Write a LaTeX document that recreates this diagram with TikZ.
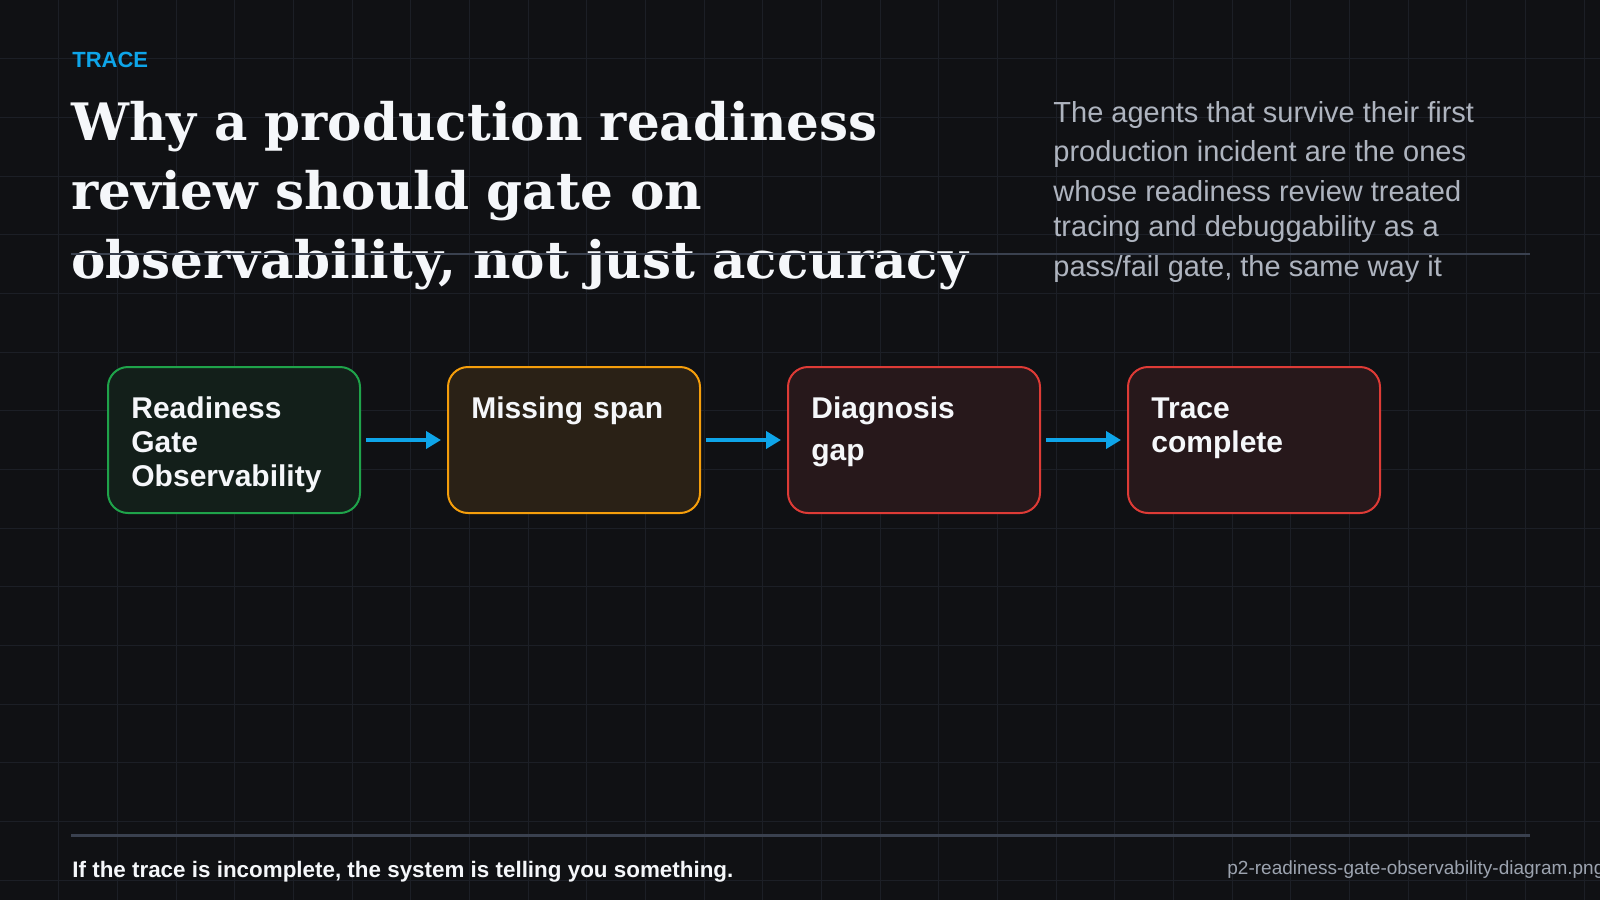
\documentclass[tikz,border=0pt]{standalone}
\usepackage{fontspec}
\setmainfont{Liberation Sans}
\newfontfamily\headfont{DejaVu Serif}
\usetikzlibrary{arrows.meta, positioning}

\definecolor{bgcol}{HTML}{101114}
\definecolor{gridcol}{HTML}{1C1F26}
\definecolor{rulecol}{HTML}{3A414F}
\definecolor{accent}{HTML}{0EA5E9}
\definecolor{txtwhite}{HTML}{F5F7FA}
\definecolor{paratxt}{HTML}{AEB4BF}
\definecolor{filetxt}{HTML}{9CA3AF}
\definecolor{grnline}{HTML}{1FA34A}
\definecolor{grnfill}{HTML}{131F1A}
\definecolor{ambline}{HTML}{F59E0B}
\definecolor{ambfill}{HTML}{2A2116}
\definecolor{redline}{HTML}{DE3B36}
\definecolor{redfill}{HTML}{27181B}

\begin{document}
\begin{tikzpicture}[
    x=0.5pt, y=-0.5pt,
    node distance=44pt,
    stagebox/.style={rectangle, draw, line width=1pt, rounded corners=10pt, outer sep=0pt,
                minimum width=126pt, minimum height=73pt},
    stagetxt/.style={anchor=base west, inner sep=0pt, align=left, text width=115pt,
                text=txtwhite, font=\fontsize{15}{17}\selectfont\bfseries},
    arr/.style={-{Triangle[length=7.5pt, width=8.5pt]}, line width=2pt, draw=accent,
                shorten <=3pt, shorten >=3.5pt},
    gridline/.style={draw=gridcol, line width=0.5pt},
    rule/.style={draw=rulecol, line width=1.25pt},
]
    \useasboundingbox (0,0) rectangle (1600,900);
    \clip (0,0) rectangle (1600,900);
    \fill[bgcol] (0,0) rectangle (1600,900);
    \foreach \i in {1,...,27} \draw[gridline] (\i*58.67,0) -- (\i*58.67,900);
    \foreach \j in {1,...,15} \draw[gridline] (0,\j*58.67) -- (1600,\j*58.67);

    \node[anchor=base west, inner sep=0pt, text=accent,
          font=\fontsize{11}{13}\selectfont\bfseries] (kicker) at (72,67) {TRACE};
    \node[anchor=base west, inner sep=0pt, text=txtwhite, align=left, text width=520pt,
          font=\headfont\fontsize{25.8}{34.5}\selectfont\bfseries] (title) at (71,140)
          {Why a production readiness\\review should gate on\\observability, not just accuracy};

    \foreach \ly/\ln in {122.7/The agents that survive their first,
                         161.7/production incident are the ones,
                         201.7/whose readiness review treated,
                         236/tracing and debuggability as a,
                         276/{pass/fail gate, the same way it}}
        \node[anchor=base west, inner sep=0pt, text=paratxt,
              font=\fontsize{14.5}{17}\selectfont] at (1053,\ly) {\ln};

    \draw[rule] (71,254) -- (1530,254);

    \node[stagebox, draw=grnline, fill=grnfill] (gate) at (234,440) {};
    \node[stagebox, draw=ambline, fill=ambfill, right=of gate] (span) {};
    \node[stagebox, draw=redline, fill=redfill, right=of span] (diag) {};
    \node[stagebox, draw=redline, fill=redfill, right=of diag] (done) {};

    \node[stagetxt] (gatetxt) at ([shift={(11.5pt,-25.5pt)}]gate.north west) {Readiness\\Gate\\Observability};
    \node[stagetxt] (spantxt) at ([shift={(11.5pt,-25.5pt)}]span.north west) {Missing span};
    \node[stagetxt] (diagtxt) at ([shift={(11.5pt,-25.5pt)}]diag.north west) {Diagnosis\\[4pt]gap};
    \node[stagetxt] (donetxt) at ([shift={(11.5pt,-25.5pt)}]done.north west) {Trace\\complete};

    \draw[arr] (gate) -- (span);
    \draw[arr] (span) -- (diag);
    \draw[arr] (diag) -- (done);

    \draw[rule] (71,835.5) -- (1530,835.5);
    \node[anchor=base west, inner sep=0pt, text=txtwhite,
          font=\fontsize{11.2}{13}\selectfont\bfseries] (moral) at (72,877)
          {If the trace is incomplete, the system is telling you something.};
    \node[anchor=base west, inner sep=0pt, text=filetxt,
          font=\fontsize{9.5}{11}\selectfont] (fname) at (1227,874)
          {p2-readiness-gate-observability-diagram.png};
\end{tikzpicture}
\end{document}
